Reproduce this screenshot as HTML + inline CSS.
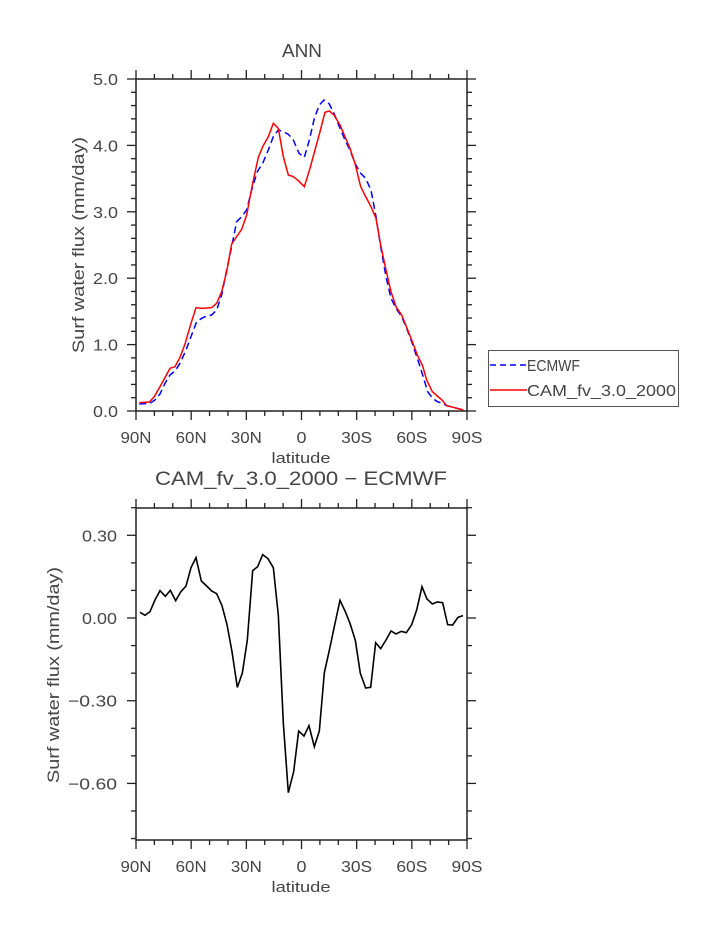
<!DOCTYPE html>
<html><head><meta charset="utf-8"><style>
body{margin:0;background:#fff;}
svg text{font-family:"Liberation Sans",sans-serif;fill:#444;}
</style></head><body>
<svg id="s" width="723" height="935" xmlns="http://www.w3.org/2000/svg">
<rect width="723" height="935" fill="#fff"/>
<text x="302" y="57" font-size="18" text-anchor="middle" textLength="40" lengthAdjust="spacingAndGlyphs">ANN</text>
<text x="301" y="463" font-size="15" text-anchor="middle" textLength="59" lengthAdjust="spacingAndGlyphs">latitude</text>
<text x="301" y="485" font-size="19" text-anchor="middle" textLength="292" lengthAdjust="spacingAndGlyphs">CAM_fv_3.0_2000 − ECMWF</text>
<text x="301" y="892" font-size="15" text-anchor="middle" textLength="59" lengthAdjust="spacingAndGlyphs">latitude</text>
<text transform="translate(84,245) rotate(-90)" font-size="17" text-anchor="middle" textLength="216" lengthAdjust="spacingAndGlyphs">Surf water flux (mm/day)</text>
<text transform="translate(59,675) rotate(-90)" font-size="17" text-anchor="middle" textLength="216" lengthAdjust="spacingAndGlyphs">Surf water flux (mm/day)</text>
<rect x="136" y="79" width="331" height="332" fill="none" stroke="#222" stroke-width="1.5"/>
<rect x="136" y="508" width="331" height="332" fill="none" stroke="#222" stroke-width="1.5"/>
<g id="ticks" stroke="#222" stroke-width="1.3"></g>
<g id="labs" font-size="15"></g>
<g transform="translate(60,40) scale(0.33333)">
<polyline fill="none" stroke="#0000ff" stroke-width="1.5" vector-effect="non-scaling-stroke" stroke-dasharray="7,4" points="238,1092 270,1090 285,1080 300,1062 315,1030 330,1005 345,993 360,970 378,930 393,890 410,845 425,835 440,828 455,825 470,810 485,765 500,690 515,620 530,545 545,530 560,510 575,450 592,395 608,370 625,330 640,290 655,270 670,275 685,283 700,300 717,340 733,352 748,300 763,235 778,195 792,180 808,192 822,220 838,260 855,300 870,330 885,370 902,400 917,415 933,450 948,530 962,620 978,710 993,775 1008,805 1025,830 1040,865 1055,905 1072,955 1088,1005 1103,1055 1118,1075 1132,1085 1148,1090 1160,1097 1180,1102 1210,1110"/>
<polyline fill="none" stroke="#ff0000" stroke-width="1.5" vector-effect="non-scaling-stroke" points="238,1088 268,1086 283,1070 300,1040 330,985 345,980 360,952 375,912 393,850 408,803 425,805 455,803 470,790 485,755 500,695 515,612 545,568 560,525 578,430 595,352 608,320 625,290 640,250 655,265 670,350 685,405 700,410 715,422 733,440 750,385 765,330 780,275 795,217 808,213 822,225 840,255 855,290 870,325 885,370 902,440 917,470 933,500 948,535 962,615 978,690 993,755 1008,800 1025,825 1040,862 1055,900 1072,945 1088,978 1100,1020 1117,1055 1132,1068 1148,1082 1160,1097 1180,1102 1210,1110"/>
</g>
<g transform="translate(40,460) scale(0.33333)">
<polyline fill="none" stroke="#000" stroke-width="1.6" vector-effect="non-scaling-stroke" points="300,457 315,466 330,455 345,420 360,392 376,409 391,391 407,422 422,396 438,378 453,323 468,293 484,363 500,378 515,393 530,401 546,437 561,494 576,575 592,682 607,639 622,540 638,332 653,320 668,284 684,296 700,323 715,466 730,790 745,998 761,935 776,813 792,828 807,797 823,860 838,813 853,638 868,571 884,495 900,421 915,453 930,490 946,541 961,640 977,684 992,682 1007,548 1022,566 1038,540 1053,513 1068,522 1084,514 1099,518 1115,494 1130,450 1146,380 1161,417 1177,432 1192,426 1208,428 1223,494 1238,495 1254,472 1269,467"/>
</g>
<rect x="488.5" y="350.5" width="190" height="56" fill="#fff" stroke="#555" stroke-width="1"/>
<line x1="490" y1="365" x2="527" y2="365" stroke="#0000ff" stroke-width="1.5" stroke-dasharray="6,4"/>
<line x1="490" y1="390" x2="527" y2="390" stroke="#ff0000" stroke-width="1.5"/>
<text x="527" y="371" font-size="16" textLength="53" lengthAdjust="spacingAndGlyphs">ECMWF</text>
<text x="527" y="396" font-size="16" textLength="149" lengthAdjust="spacingAndGlyphs">CAM_fv_3.0_2000</text>
</svg>
<script>
var t=document.getElementById('ticks'),l=document.getElementById('labs'),NS='http://www.w3.org/2000/svg';
function ln(a,b,c,d){var e=document.createElementNS(NS,'line');e.setAttribute('x1',a);e.setAttribute('y1',b);e.setAttribute('x2',c);e.setAttribute('y2',d);t.appendChild(e);}
function tx(x,y,s,anc,w,fs){var e=document.createElementNS(NS,'text');e.setAttribute('x',x);e.setAttribute('y',y);e.setAttribute('text-anchor',anc);if(fs)e.setAttribute('font-size',fs);if(w){e.setAttribute('textLength',w);e.setAttribute('lengthAdjust','spacingAndGlyphs');}e.textContent=s;l.appendChild(e);}
var xl=['90N','60N','30N','0','30S','60S','90S'];
[[79,411],[508,840]].forEach(function(p){
 for(var i=0;i<=18;i++){var x=136+i*331/18,maj=i%3==0,L=maj?9:5;
  ln(x,p[0],x,p[0]-L);ln(x,p[1],x,p[1]+L);
  if(maj){var s=xl[i/3];tx(x,p[1]+32,s,'middle',s=='0'?10:31,16);}}
});
for(var i=0;i<=25;i++){var y=411-i*332/25,maj=i%5==0,L=maj?9:5;ln(136,y,136-L,y);ln(467,y,467+L,y);
 if(maj)tx(118,y+6,(i/5).toFixed(1),'end',25,16);}
for(var i=0;i<=12;i++){var v=-0.8+i*0.1,y=618-v*275.7,maj=Math.abs(Math.round(v*10))%3==0,L=maj?9:5;ln(136,y,136-L,y);ln(467,y,467+L,y);
 if(maj&&v<0.35){var neg=v<-1e-6;var s=(Math.abs(v)<1e-6?'0.00':(neg?'−':'')+Math.abs(v).toFixed(2));tx(117,y+6,s,'end',neg?49:35,16);}}
</script>
</body></html>
